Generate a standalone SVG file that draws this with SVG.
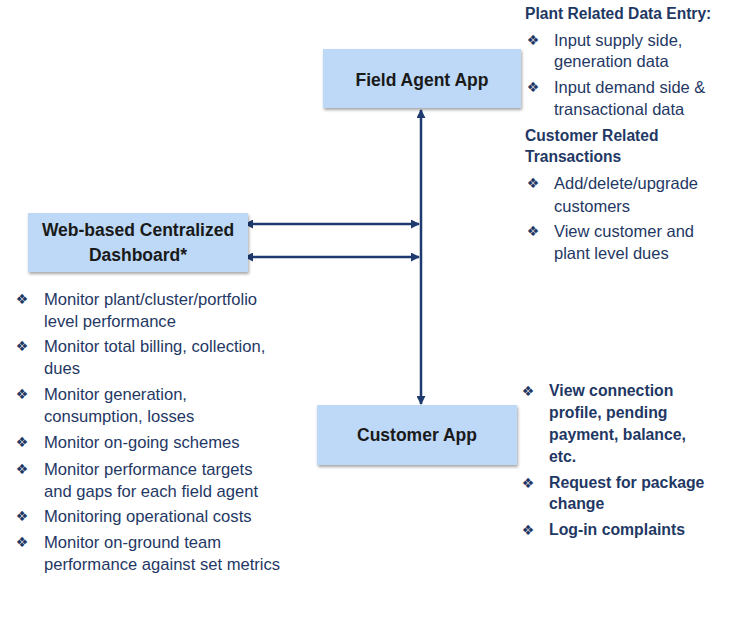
<svg xmlns="http://www.w3.org/2000/svg" width="742" height="619" viewBox="0 0 742 619">
<style>
.box{fill:#BDD9F7;filter:url(#sh);}
.lbl{font-family:"Liberation Sans",Arial,sans-serif;font-weight:bold;font-size:17.5px;fill:#1A1A1A;text-anchor:middle;}
.li{font-family:"Liberation Sans",Arial,sans-serif;font-size:16.6px;fill:#1F3864;}
.ri{font-family:"Liberation Sans",Arial,sans-serif;font-size:16.5px;fill:#1F3864;}
.hd{font-family:"Liberation Sans",Arial,sans-serif;font-weight:bold;font-size:15.6px;fill:#1F3864;}
.bi{font-family:"Liberation Sans",Arial,sans-serif;font-weight:bold;font-size:15.8px;fill:#1F3864;}
.bu{font-family:"DejaVu Sans",sans-serif;font-size:14px;fill:#1F3864;text-anchor:middle;}
.cn{stroke:#1F3A6E;stroke-width:2.5;fill:none;marker-start:url(#ah);marker-end:url(#ah);}
</style>
<defs>
<filter id="sh" x="-10%" y="-10%" width="120%" height="130%">
<feDropShadow dx="1" dy="2" stdDeviation="1.5" flood-color="#000" flood-opacity="0.35"/>
</filter>
<marker id="ah" viewBox="0 0 10 10" refX="9" refY="5" markerWidth="3.6" markerHeight="3.6" orient="auto-start-reverse" markerUnits="strokeWidth">
<path d="M0,0 L10,5 L0,10 Z" fill="#1F3A6E"/>
</marker>
</defs>
<rect width="742" height="619" fill="#FFFFFF"/>

<g id="connectors">
<line class="cn" x1="421" y1="110" x2="421" y2="404"/>
<line class="cn" x1="245" y1="224" x2="419" y2="224"/>
<line class="cn" x1="245" y1="257" x2="419" y2="257"/>
</g>

<g id="field-agent-app">
<rect class="box" x="323" y="49" width="198" height="59"/>
<text class="lbl" x="422" y="86">Field Agent App</text>
</g>

<g id="dashboard">
<rect class="box" x="28" y="213" width="220" height="59"/>
<text class="lbl" x="138" y="236">Web-based Centralized</text>
<text class="lbl" x="138" y="261">Dashboard*</text>
</g>

<g id="customer-app">
<rect class="box" x="317" y="405" width="200" height="60"/>
<text class="lbl" x="417" y="441">Customer App</text>
</g>

<g id="field-agent-notes">
<text class="hd" x="525" y="19">Plant Related Data Entry:</text>
<text class="bu" x="533" y="45">❖</text>
<text class="ri" x="554" y="46">Input supply side,</text>
<text class="ri" x="554" y="67">generation data</text>
<text class="bu" x="533" y="92">❖</text>
<text class="ri" x="554" y="93">Input demand side &amp;</text>
<text class="ri" x="554" y="115">transactional data</text>
<text class="hd" x="525" y="141">Customer Related</text>
<text class="hd" x="525" y="162">Transactions</text>
<text class="bu" x="533" y="188">❖</text>
<text class="ri" x="554" y="189">Add/delete/upgrade</text>
<text class="ri" x="554" y="212">customers</text>
<text class="bu" x="533" y="236">❖</text>
<text class="ri" x="554" y="237">View customer and</text>
<text class="ri" x="554" y="259">plant level dues</text>
</g>

<g id="dashboard-notes">
<text class="bu" x="22" y="304">❖</text>
<text class="li" x="44" y="305">Monitor plant/cluster/portfolio</text>
<text class="li" x="44" y="327">level performance</text>
<text class="bu" x="22" y="351">❖</text>
<text class="li" x="44" y="352">Monitor total billing, collection,</text>
<text class="li" x="44" y="374">dues</text>
<text class="bu" x="22" y="399">❖</text>
<text class="li" x="44" y="400">Monitor generation,</text>
<text class="li" x="44" y="422">consumption, losses</text>
<text class="bu" x="22" y="447">❖</text>
<text class="li" x="44" y="448">Monitor on-going schemes</text>
<text class="bu" x="22" y="474">❖</text>
<text class="li" x="44" y="475">Monitor performance targets</text>
<text class="li" x="44" y="497">and gaps for each field agent</text>
<text class="bu" x="22" y="521">❖</text>
<text class="li" x="44" y="522">Monitoring operational costs</text>
<text class="bu" x="22" y="547">❖</text>
<text class="li" x="44" y="548">Monitor on-ground team</text>
<text class="li" x="44" y="570">performance against set metrics</text>
</g>

<g id="customer-app-notes">
<text class="bu" x="528" y="396">❖</text>
<text class="bi" x="549" y="396">View connection</text>
<text class="bi" x="549" y="418">profile, pending</text>
<text class="bi" x="549" y="440">payment, balance,</text>
<text class="bi" x="549" y="462">etc.</text>
<text class="bu" x="528" y="488">❖</text>
<text class="bi" x="549" y="488">Request for package</text>
<text class="bi" x="549" y="509">change</text>
<text class="bu" x="528" y="535">❖</text>
<text class="bi" x="549" y="535">Log-in complaints</text>
</g>
</svg>
